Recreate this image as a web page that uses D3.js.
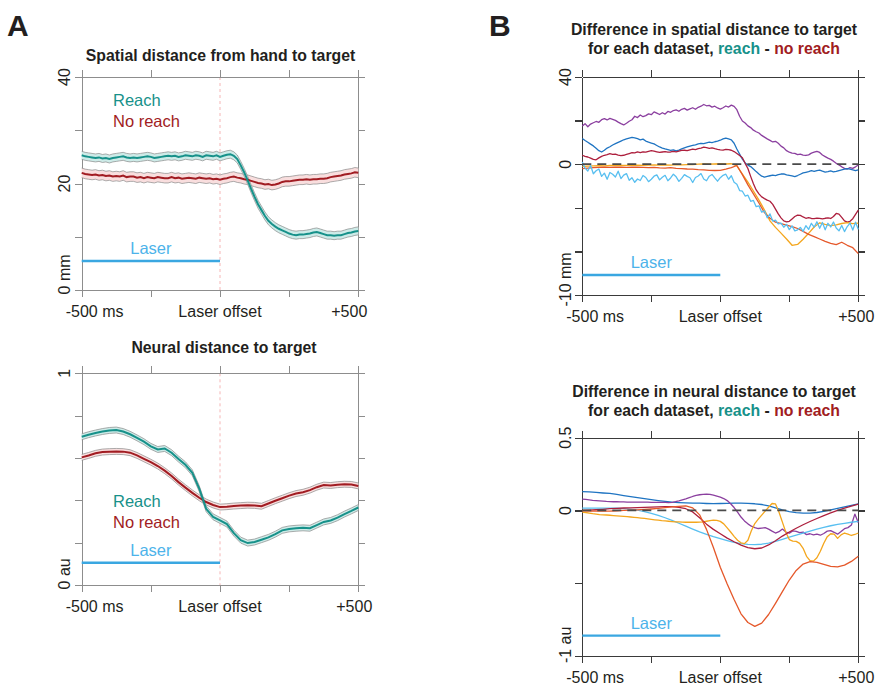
<!DOCTYPE html>
<html>
<head>
<meta charset="utf-8">
<script src="https://cdn.jsdelivr.net/npm/d3@7"></script>
<style>
  html, body { margin: 0; padding: 0; background: #fff; }
  svg { display: block; }
</style>
</head>
<body>
<svg id="fig" width="875" height="694"></svg>
<script>
// ---------------- data ----------------
const timeWindow = [-500, 500];            // ms around laser offset
const xTickValues = [-500, -250, 0, 250, 500];
const xTickLabels = [[-500, "-500", " ms"], [0, "Laser offset", ""], [500, "+500", ""]];
const laserSpan = [-500, 0];

// Panel A, top: spatial distance from hand to target (mm), 12.5 ms steps
const spatialReach = [
  25.3, 25.1, 25.0, 24.9, 24.8, 24.9, 24.7, 24.8, 24.6, 24.8, 24.9, 25.0, 25.1, 24.9, 24.8, 24.9,
  24.8, 24.9, 25.0, 25.1, 25.0, 24.8, 24.9, 25.0, 25.1, 25.2, 25.1, 25.2, 25.0, 25.1, 25.3, 25.2,
  25.1, 25.3, 25.2, 25.0, 25.3, 25.2, 25.1, 25.3, 25.0, 25.2, 25.4, 25.5, 25.2, 24.6, 23.4, 22.1,
  20.6, 19.0, 17.5, 16.1, 15.0, 13.9, 13.0, 12.4, 11.9, 11.5, 11.2, 10.9, 10.6, 10.4, 10.3, 10.4,
  10.4, 10.5, 10.6, 10.8, 10.9, 10.7, 10.5, 10.3, 10.3, 10.2, 10.3, 10.3, 10.5, 10.7, 10.8, 11.0, 11.1
];
const spatialNoReach = [
  22.0, 21.8, 21.7, 21.6, 21.7, 21.5, 21.6, 21.4, 21.5, 21.3, 21.4, 21.3, 21.5, 21.2, 21.3, 21.3,
  21.1, 21.2, 21.0, 21.2, 21.1, 21.0, 21.2, 21.1, 21.0, 21.0, 21.2, 21.0, 21.1, 20.9, 21.0, 21.1,
  21.0, 20.9, 21.1, 21.0, 20.9, 21.0, 20.8, 20.9, 20.7, 20.9, 21.0, 21.2, 21.3, 21.1, 21.0, 20.8,
  20.7, 20.5, 20.3, 20.1, 20.0, 19.8, 19.9, 19.7, 19.8, 20.0, 20.3, 20.4, 20.4, 20.5, 20.6, 20.7,
  20.7, 20.8, 20.7, 20.8, 20.8, 20.9, 20.9, 21.0, 21.2, 21.3, 21.4, 21.5, 21.7, 21.8, 21.9, 22.1, 22.0
];
const spatialReachSem = 0.75;
const spatialNoReachSem = 0.9;

// Panel A, bottom: neural distance to target (au), 25 ms steps
const neuralReach = [
  0.700, 0.710, 0.718, 0.725, 0.730, 0.732, 0.725, 0.712, 0.695, 0.677, 0.655, 0.640, 0.645, 0.625,
  0.595, 0.568, 0.530, 0.455, 0.360, 0.322, 0.305, 0.288, 0.245, 0.212, 0.198, 0.203, 0.214, 0.225,
  0.240, 0.258, 0.265, 0.268, 0.270, 0.268, 0.283, 0.298, 0.305, 0.318, 0.335, 0.350, 0.366
];
const neuralNoReach = [
  0.603, 0.612, 0.622, 0.628, 0.630, 0.631, 0.630, 0.625, 0.612, 0.596, 0.580, 0.562, 0.540, 0.515,
  0.486, 0.460, 0.435, 0.412, 0.392, 0.378, 0.368, 0.370, 0.373, 0.375, 0.377, 0.376, 0.372, 0.385,
  0.398, 0.410, 0.422, 0.432, 0.438, 0.448, 0.462, 0.472, 0.470, 0.474, 0.476, 0.475, 0.468
];
const neuralReachSem = 0.014;
const neuralNoReachSem = 0.014;

// Panel B, top: reach - no reach spatial difference per dataset
const spatialDiffPurple = [
  17.5, 18.6, 17.2, 18.4, 19.0, 19.6, 19.2, 20.4, 20.9, 20.3, 21.0, 20.6, 20.1, 19.3, 18.6, 18.0,
  18.8, 19.7, 20.4, 22.0, 21.4, 22.6, 21.8, 22.3, 23.1, 22.7, 24.0, 23.4, 22.8, 23.6, 23.0, 24.2,
  23.8, 24.6, 24.9, 24.3, 25.2, 25.6, 24.8, 25.4, 25.9, 25.2, 26.1, 26.6, 27.4, 26.8, 27.0, 26.2,
  26.6, 25.8, 25.3, 25.9, 26.7, 26.2, 27.1, 26.5, 25.0, 22.0, 19.8, 18.9, 17.6, 16.8, 15.6, 14.9,
  14.3, 13.2, 12.4, 11.6, 10.9, 10.2, 10.5, 9.6, 8.3, 7.5, 6.2, 5.5, 5.1, 5.0, 4.4, 4.6,
  4.2, 4.0, 4.3, 5.1, 5.5, 5.9, 5.4, 4.2, 3.5, 2.8, 2.2, 1.4, 0.4, -0.3, -1.2, -1.9,
  -2.2, -1.6, -1.9, -1.2, -0.4
];
const spatialDiffBlue = [
  11.8, 10.9, 10.1, 9.2, 8.4, 7.3, 6.2, 5.6, 6.4, 7.4, 8.0, 8.8, 9.4, 10.0, 10.6, 11.2,
  11.6, 12.0, 12.3, 12.1, 11.7, 11.2, 11.5, 10.6, 10.1, 9.7, 9.3, 8.6, 7.9, 7.4, 7.0, 6.7,
  6.3, 6.6, 6.1, 6.5, 7.0, 7.5, 7.9, 8.3, 8.6, 8.9, 9.3, 9.6, 9.4, 9.8, 10.1, 9.9,
  10.3, 10.6, 11.0, 11.6, 12.0, 11.6, 11.2, 9.6, 7.0, 4.6, 2.3, 0.6, -0.4, -1.1, -2.2, -3.4,
  -4.5, -5.5, -5.9, -5.6, -5.3, -5.0, -5.2, -4.8, -4.5, -4.4, -4.9, -5.1, -5.4, -5.7, -5.2, -4.6,
  -4.0, -3.7, -3.4, -3.0, -3.3, -2.9, -2.7, -3.2, -3.6, -3.4, -3.1, -3.5, -3.3, -2.9, -2.6, -2.3,
  -2.0, -2.3, -2.6, -3.0, -2.6
];
const spatialDiffCrimson = [
  4.1, 3.6, 3.3, 2.8, 2.2, 2.0, 2.9, 3.6, 4.1, 4.4, 4.8, 4.5, 4.6, 4.2, 3.9, 4.1,
  4.5, 4.9, 5.3, 5.2, 5.6, 5.3, 5.7, 5.5, 5.9, 6.2, 6.0, 5.7, 5.4, 5.6, 5.8, 5.5,
  5.6, 5.9, 5.7, 6.0, 6.3, 6.4, 6.2, 6.6, 6.9, 6.7, 7.1, 7.4, 7.8, 7.6, 7.3, 7.5,
  7.1, 6.8, 6.6, 6.5, 6.8, 6.7, 6.4, 5.8, 4.9, 4.0, 3.0, 0.4, -2.0, -5.6, -9.0, -11.8,
  -13.6, -15.0, -15.8, -16.5, -17.0, -18.4, -20.6, -22.8, -24.6, -26.0, -26.5, -26.2, -25.1, -24.0, -23.4, -23.5,
  -24.2, -24.8, -24.5, -24.9, -25.0, -24.7, -24.9, -25.1, -24.8, -24.6, -24.9, -24.0, -22.6, -22.9, -24.4, -26.0,
  -26.6, -26.2, -25.0, -23.0, -21.1
];
const spatialDiffYellow = [
  -1.0, -0.9, -0.8, -0.7, -0.8, -0.6, -0.5, -0.6, -0.5, -0.5, -0.4, -0.5, -0.4, -0.3, -0.4, -0.3,
  -0.4, -0.2, -0.3, -0.2, -0.2, 0.0, 0.1, 0.0, 0.1, 0.2, 0.1, 0.2, -0.8, -4.5, -8.2, -12.3,
  -16.5, -21.0, -26.0, -29.0, -31.6, -34.3, -37.2, -36.8, -34.4, -31.7, -28.8, -26.9, -27.6, -28.2, -27.8, -27.2,
  -26.8, -27.3, -27.0
];
const spatialDiffOrange = [
  -2.0, -1.8, -1.6, -1.5, -1.4, -1.5, -1.3, -1.4, -1.5, -1.3, -1.4, -1.5, -1.6, -1.5, -1.7, -1.8,
  -1.6, -1.9, -2.0, -2.2, -2.3, -2.5, -2.6, -2.8, -2.9, -2.8, -2.3, -1.6, -0.6, -4.8, -9.5, -13.6,
  -17.8, -22.2, -24.8, -26.6, -27.3, -27.9, -28.6, -29.5, -30.8, -32.2, -33.2, -34.3, -35.4, -36.3, -36.9, -35.8,
  -37.2, -38.3, -41.0
];
const spatialDiffCyan = [
  1.0, -1.8, -3.1, -0.6, -4.4, -3.0, -2.2, -5.6, -4.1, -6.9, -3.8, -4.6, -5.9, -3.2, -6.6, -5.0,
  -4.3, -7.4, -6.2, -8.3, -6.8, -7.5, -5.2, -6.1, -8.0, -6.9, -5.5, -4.9, -7.2, -6.0, -5.1, -7.6,
  -6.3, -4.6, -5.8, -7.9, -6.5, -4.8, -5.6, -6.2, -8.4, -6.1, -5.4, -4.3, -6.8, -7.6, -5.5, -4.7,
  -6.3, -7.8, -6.2, -5.1, -4.6, -6.9, -5.3, -8.3, -9.2, -12.1, -12.4, -14.6, -14.2, -17.0, -16.6, -19.5,
  -19.1, -22.0, -21.4, -24.6, -22.8, -26.1, -25.7, -27.4, -27.0, -28.9, -27.6, -30.0, -28.3, -30.6, -30.1, -29.0,
  -30.8, -28.2, -29.9, -27.1, -28.9, -26.4, -29.4, -26.7, -30.1, -27.1, -28.8, -26.5, -29.3, -30.6, -28.1, -30.9,
  -28.6, -27.0, -30.2, -26.6, -29.9
];

// Panel B, bottom: reach - no reach neural difference per dataset
const neuralDiffBlue = [
  0.130, 0.128, 0.124, 0.120, 0.117, 0.110, 0.102, 0.095, 0.088, 0.081, 0.074, 0.068, 0.062, 0.057,
  0.054, 0.052, 0.051, 0.050, 0.048, 0.047, 0.048, 0.049, 0.050, 0.050, 0.049, 0.046, 0.041, 0.032,
  0.018, 0.004, -0.008, -0.015, -0.018, -0.018, -0.014, -0.006, 0.004, 0.014, 0.024, 0.035, 0.046
];
const neuralDiffPurple = [
  0.078, 0.076, 0.073, 0.070, 0.068, 0.066, 0.064, 0.062, 0.061, 0.060, 0.060, 0.059, 0.059, 0.058,
  0.058, 0.058, 0.058, 0.058, 0.057, 0.057, 0.056, 0.056, 0.055, 0.055, 0.055, 0.054, 0.055, 0.060,
  0.066, 0.073, 0.080, 0.088, 0.096, 0.103, 0.108, 0.111, 0.112, 0.110, 0.105, 0.098, 0.091, 0.082,
  0.068, 0.046, 0.020, -0.012, -0.045, -0.072, -0.092, -0.108, -0.118, -0.124, -0.121, -0.118, -0.128, -0.142,
  -0.155, -0.146, -0.128, -0.148, -0.156, -0.140, -0.143, -0.152, -0.149, -0.166, -0.160, -0.168, -0.162, -0.170,
  -0.158, -0.142, -0.138, -0.150, -0.163, -0.145, -0.125, -0.118, -0.100, -0.025, -0.085
];
const neuralDiffCyan = [
  0.016, 0.016, 0.016, 0.016, 0.016, 0.016, 0.013, 0.008, 0.002, -0.008, -0.020, -0.034, -0.050, -0.068,
  -0.088, -0.108, -0.128, -0.147, -0.164, -0.180, -0.194, -0.207, -0.219, -0.228, -0.233, -0.235, -0.232, -0.224,
  -0.212, -0.198, -0.184, -0.170, -0.156, -0.142, -0.128, -0.116, -0.105, -0.096, -0.088, -0.081, -0.075
];
const neuralDiffCrimson = [
  0.000, 0.002, 0.005, 0.008, 0.012, 0.015, 0.017, 0.018, 0.019, 0.021, 0.023, 0.025, 0.027, 0.026,
  0.022, 0.012, -0.010, -0.050, -0.094, -0.130, -0.160, -0.190, -0.215, -0.238, -0.255, -0.263, -0.258, -0.237,
  -0.208, -0.176, -0.148, -0.122, -0.098, -0.076, -0.055, -0.035, -0.017, 0.000, 0.016, 0.030, 0.044
];
const neuralDiffOrange = [
  -0.002, -0.004, -0.005, -0.004, -0.004, -0.002, 0.000, 0.002, 0.004, 0.007, 0.010, 0.014, 0.019, 0.024,
  0.028, 0.031, 0.018, -0.030, -0.130, -0.255, -0.390, -0.505, -0.612, -0.710, -0.770, -0.796, -0.774, -0.715,
  -0.638, -0.558, -0.478, -0.412, -0.368, -0.352, -0.356, -0.370, -0.384, -0.388, -0.376, -0.350, -0.315
];
const neuralDiffYellow = [
  -0.011, -0.014, -0.018, -0.022, -0.025, -0.028, -0.030, -0.031, -0.033, -0.035, -0.037, -0.039, -0.041, -0.043,
  -0.045, -0.047, -0.049, -0.052, -0.055, -0.058, -0.061, -0.064, -0.067, -0.070, -0.072, -0.074, -0.076, -0.078,
  -0.079, -0.080, -0.081, -0.081, -0.080, -0.081, -0.080, -0.078, -0.074, -0.070, -0.066, -0.068, -0.075, -0.092,
  -0.120, -0.148, -0.178, -0.205, -0.222, -0.228, -0.205, -0.140, -0.090, -0.060, -0.032, -0.005, 0.022, 0.048,
  0.045, -0.010, -0.080, -0.150, -0.200, -0.210, -0.212, -0.226, -0.260, -0.315, -0.345, -0.348, -0.325, -0.280,
  -0.225, -0.180, -0.160, -0.163, -0.192, -0.168, -0.155, -0.162, -0.172, -0.165, -0.155
];

// axis ticks and their printed labels: [value, number, unit]
const yTicksA1 = [0, 10, 20, 30, 40];
const yLabelsA1 = [[40, "40", ""], [20, "20", ""], [0, "0", " mm"]];
const yTicksA2 = [0, 0.2, 0.4, 0.6, 0.8, 1];
const yLabelsA2 = [[1, "1", ""], [0, "0", " au"]];
const yTicksB1 = [40, 20, 0, -20, -40, -60];
const yLabelsB1 = [[40, "40", ""], [0, "0", ""], [-60, "-10", " mm"]];
const yTicksB2 = [0.5, 0, -0.5, -1];
const yLabelsB2 = [[0.5, "0.5", ""], [0, "0", ""], [-1, "-1", " au"]];

// ---------------- styling ----------------
const FONT = "'Liberation Sans', Arial, Helvetica, sans-serif";
const TEXT = "#231f20";
const reachColor = "#17918a";
const noReachColor = "#a11c22";
const laserColor = "#3aa7e1";
const laserText = "#4db3ea";
const datasetColors = {
  purple: "#8b3f9f", blue: "#1f74c2", crimson: "#ad1f3d",
  yellow: "#f4a61d", orange: "#e5582a", cyan: "#58bff0"
};

const svg = d3.select("#fig");
const timeGrid = n => d3.range(n).map(i => timeWindow[0] + i * (timeWindow[1] - timeWindow[0]) / (n - 1));

// text width helper for centring the number part of a label on its tick
function textWidth(str, size, weight) {
  const t = svg.append("text").attr("font-family", FONT).attr("font-size", size)
    .attr("font-weight", weight || "normal").text(str);
  const w = t.node().getComputedTextLength();
  t.remove();
  return w;
}

function drawFrame(g, x, y, p) {
  const TL = 7;
  const axes = [
    [d3.axisBottom(x).tickValues(xTickValues), `translate(0,${p.bottom})`],
    [d3.axisTop(x).tickValues(xTickValues), `translate(0,${p.top})`],
    [d3.axisLeft(y).tickValues(p.yTicks), `translate(${p.left},0)`],
    [d3.axisRight(y).tickValues(p.yTicks), `translate(${p.right},0)`]
  ];
  axes.forEach(([ax, tr]) => {
    const a = g.append("g").attr("transform", tr)
      .call(ax.tickSizeInner(TL).tickSizeOuter(0).tickFormat(""));
    a.selectAll("path, line").attr("stroke", p.frameColor).attr("stroke-width", p.frameWidth)
      .attr("shape-rendering", "crispEdges");
    a.selectAll("text").remove();
  });
}

function drawAxisLabels(g, x, y, p) {
  // x labels: numeric part centred on its tick
  xTickLabels.forEach(([v, num, unit]) => {
    const w = textWidth(num, 16);
    let xs = x(v) - w / 2;
    if (v === 500) xs += p.endLabelDx;
    g.append("text").attr("x", xs).attr("y", p.bottom + 27)
      .attr("font-family", FONT).attr("font-size", 16).attr("fill", TEXT)
      .text(num + unit);
  });
  // y labels, rotated, numeric part centred on its tick
  p.yLabels.forEach(([v, num, unit]) => {
    const w = textWidth(num, 16);
    g.append("text")
      .attr("transform", `translate(${p.left - 11.5},${y(v)}) rotate(-90)`)
      .attr("x", -w / 2)
      .attr("font-family", FONT).attr("font-size", 16).attr("fill", TEXT)
      .text(num + unit);
  });
}

function drawLaser(g, x, y, p) {
  g.append("line")
    .attr("x1", x(laserSpan[0])).attr("x2", x(laserSpan[1]))
    .attr("y1", y(p.laserY)).attr("y2", y(p.laserY))
    .attr("stroke", laserColor).attr("stroke-width", 2.4);
  g.append("text").attr("x", x(p.laserTextT)).attr("y", y(p.laserY) - 7)
    .attr("text-anchor", "middle")
    .attr("font-family", FONT).attr("font-size", 16.5).attr("fill", laserText)
    .text("Laser");
}

function drawTitle(lines, cx, baselines) {
  lines.forEach((parts, i) => {
    const t = svg.append("text").attr("x", cx).attr("y", baselines[i])
      .attr("text-anchor", "middle").attr("font-family", FONT)
      .attr("font-size", 15.8).attr("font-weight", "bold");
    parts.forEach(([s, c]) => t.append("tspan").attr("fill", c).text(s));
  });
}

// ---------- Panel A: mean traces with s.e.m. bands ----------
function drawMeanPanel(p, series) {
  const x = d3.scaleLinear().domain(timeWindow).range([p.left, p.right]);
  const y = d3.scaleLinear().domain(p.yDomain).range([p.bottom, p.top]);
  const g = svg.append("g");

  // laser offset marker
  g.append("line").attr("x1", x(0)).attr("x2", x(0)).attr("y1", y(p.yDomain[1])).attr("y2", y(p.yDomain[0]))
    .attr("stroke", "#f2a3a3").attr("stroke-width", 0.8).attr("stroke-dasharray", "3,3");

  drawFrame(g, x, y, p);

  series.forEach(s => {
    const t = timeGrid(s.values.length);
    const pts = s.values.map((v, i) => [t[i], v]);
    g.append("path").datum(pts)
      .attr("d", d3.area().x(d => x(d[0])).y0(d => y(d[1] - s.sem)).y1(d => y(d[1] + s.sem)))
      .attr("fill", s.band).attr("stroke", "none");
    [-1, 1].forEach(sign => {
      g.append("path").datum(pts)
        .attr("d", d3.line().x(d => x(d[0])).y(d => y(d[1] + sign * s.sem)))
        .attr("fill", "none").attr("stroke", "#8a8a8a").attr("stroke-width", 0.7);
    });
  });
  series.forEach(s => {
    const t = timeGrid(s.values.length);
    g.append("path").datum(s.values.map((v, i) => [t[i], v]))
      .attr("d", d3.line().x(d => x(d[0])).y(d => y(d[1])))
      .attr("fill", "none").attr("stroke", s.color).attr("stroke-width", 2);
  });

  // legend
  [["Reach", reachColor], ["No reach", noReachColor]].forEach(([label, c], i) => {
    g.append("text").attr("x", p.legendX).attr("y", p.legendY + i * 21)
      .attr("font-family", FONT).attr("font-size", 16.5).attr("fill", c).text(label);
  });

  drawLaser(g, x, y, p);
  drawAxisLabels(g, x, y, p);
}

// ---------- Panel B: per-dataset differences ----------
function drawDiffPanel(p, series) {
  const x = d3.scaleLinear().domain(timeWindow).range([p.left, p.right]);
  const y = d3.scaleLinear().domain(p.yDomain).range([p.bottom, p.top]);
  const g = svg.append("g");

  drawFrame(g, x, y, p);

  series.forEach(s => {
    const t = timeGrid(s.values.length);
    g.append("path").datum(s.values.map((v, i) => [t[i], v]))
      .attr("d", d3.line().x(d => x(d[0])).y(d => y(d[1])))
      .attr("fill", "none").attr("stroke", s.color).attr("stroke-width", 1.3)
      .attr("stroke-linejoin", "round");
  });

  g.append("line").attr("x1", x(timeWindow[0])).attr("x2", x(timeWindow[1]))
    .attr("y1", y(0)).attr("y2", y(0))
    .attr("stroke", "#4a4a4a").attr("stroke-width", 1.8).attr("stroke-dasharray", "9,6");

  drawLaser(g, x, y, p);
  drawAxisLabels(g, x, y, p);
}

// panel letters
svg.append("text").attr("x", 7).attr("y", 36).attr("font-family", FONT)
  .attr("font-size", 30).attr("font-weight", "bold").attr("fill", TEXT).text("A");
svg.append("text").attr("x", 489).attr("y", 36).attr("font-family", FONT)
  .attr("font-size", 30).attr("font-weight", "bold").attr("fill", TEXT).text("B");

// titles
drawTitle([[["Spatial distance from hand to target", TEXT]]], 220.5, [61]);
drawTitle([[["Neural distance to target", TEXT]]], 224, [353]);
drawTitle([
  [["Difference in spatial distance to target", TEXT]],
  [["for each dataset, ", TEXT], ["reach", reachColor], [" - ", TEXT], ["no reach", noReachColor]]
], 714, [35, 54]);
drawTitle([
  [["Difference in neural distance to target", TEXT]],
  [["for each dataset, ", TEXT], ["reach", reachColor], [" - ", TEXT], ["no reach", noReachColor]]
], 714, [397, 416]);

const frameA = { frameColor: "#8d8d8d", frameWidth: 1 };
const frameB = { frameColor: "#3a3a3a", frameWidth: 1.3 };

drawMeanPanel(Object.assign({
  left: 81.7, right: 358.3, top: 77, bottom: 290, yDomain: [0, 40],
  yTicks: yTicksA1, yLabels: yLabelsA1, endLabelDx: -9,
  legendX: 113, legendY: 106, laserY: 5.45, laserTextT: -250
}, frameA), [
  { values: spatialNoReach, sem: spatialNoReachSem, color: noReachColor, band: "#f9dede" },
  { values: spatialReach, sem: spatialReachSem, color: reachColor, band: "#cdebe8" }
]);

drawMeanPanel(Object.assign({
  left: 81.7, right: 358.3, top: 373.3, bottom: 585, yDomain: [0, 1],
  yTicks: yTicksA2, yLabels: yLabelsA2, endLabelDx: -4,
  legendX: 113, legendY: 507, laserY: 0.105, laserTextT: -250
}, frameA), [
  { values: neuralNoReach, sem: neuralNoReachSem, color: noReachColor, band: "#f9dede" },
  { values: neuralReach, sem: neuralReachSem, color: reachColor, band: "#cdebe8" }
]);

drawDiffPanel(Object.assign({
  left: 582.3, right: 858.3, top: 77, bottom: 295, yDomain: [-60, 40],
  yTicks: yTicksB1, yLabels: yLabelsB1, endLabelDx: -2,
  laserY: -50.8, laserTextT: -250
}, frameB), [
  { values: spatialDiffPurple, color: datasetColors.purple },
  { values: spatialDiffBlue, color: datasetColors.blue },
  { values: spatialDiffCrimson, color: datasetColors.crimson },
  { values: spatialDiffYellow, color: datasetColors.yellow },
  { values: spatialDiffOrange, color: datasetColors.orange },
  { values: spatialDiffCyan, color: datasetColors.cyan }
]);

drawDiffPanel(Object.assign({
  left: 582.3, right: 858.3, top: 437.7, bottom: 656, yDomain: [-1, 0.5],
  yTicks: yTicksB2, yLabels: yLabelsB2, endLabelDx: -2,
  laserY: -0.86, laserTextT: -250
}, frameB), [
  { values: neuralDiffBlue, color: datasetColors.blue },
  { values: neuralDiffPurple, color: datasetColors.purple },
  { values: neuralDiffCyan, color: datasetColors.cyan },
  { values: neuralDiffYellow, color: datasetColors.yellow },
  { values: neuralDiffCrimson, color: datasetColors.crimson },
  { values: neuralDiffOrange, color: datasetColors.orange }
]);
</script>
</body>
</html>
